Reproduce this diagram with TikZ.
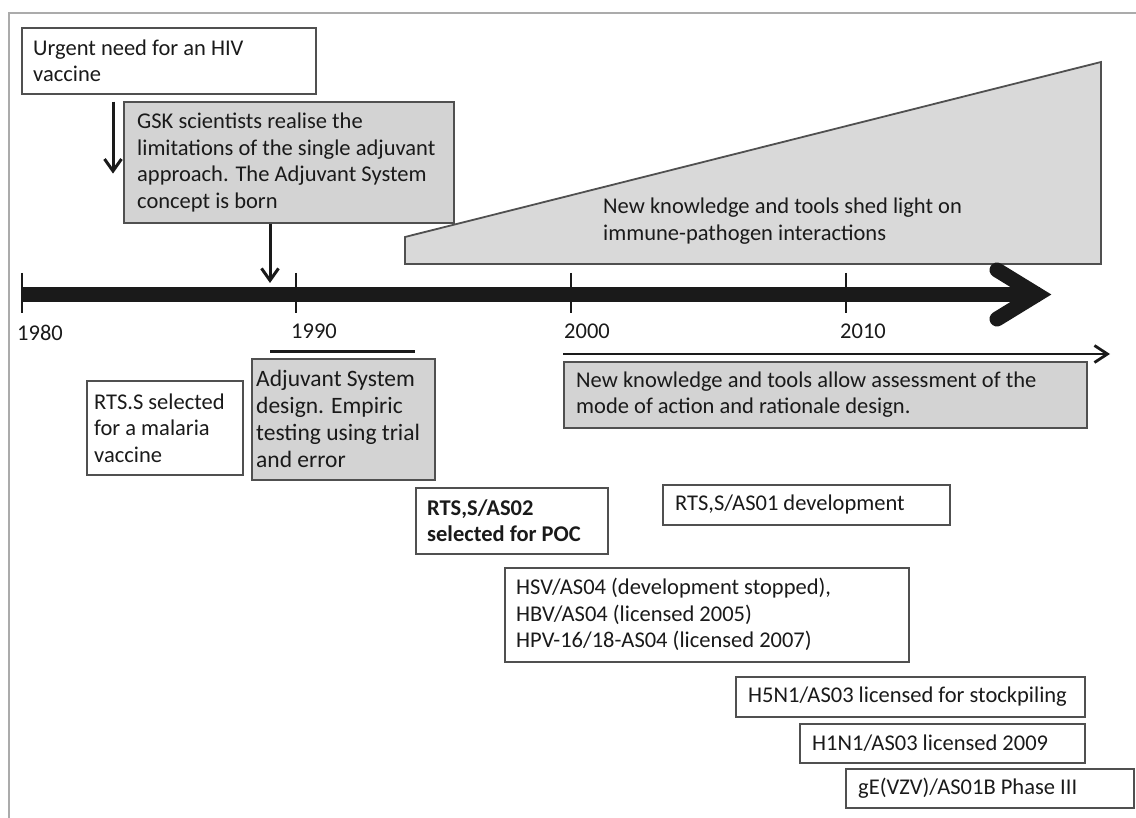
\documentclass[tikz,border=0pt]{standalone}
\usepackage{fontspec}
\setmainfont{Carlito}
\usetikzlibrary{arrows.meta}
\definecolor{boxgray}{HTML}{D3D3D3}
\definecolor{polygray}{HTML}{D9D9D9}
\definecolor{edge}{HTML}{505050}
\definecolor{ink}{HTML}{1A1A1A}
\definecolor{framegray}{HTML}{ABABAB}
\begin{document}
\begin{tikzpicture}[x=1pt,y=-1pt,
  box/.style={draw=edge, line width=1.6pt, anchor=north west, inner sep=0pt, fill=white},
  gbox/.style={box, fill=boxgray},
  txt/.style={anchor=west, align=left, inner sep=0pt, text=ink, font=\fontsize{22.5}{26.5}\selectfont},
  bigtxt/.style={txt, font=\fontsize{23.5}{27}\selectfont},
  arr/.style={draw=ink, line width=3pt, -{Straight Barb[length=12pt,width=17pt]}},
  tick/.style={draw=ink, line width=2.5pt}
]
\useasboundingbox (0,0) rectangle (1136,818);
% frame (top and left only)
\draw[framegray, line width=2pt] (1136,13) -- (9,13) -- (9,818);

% wedge
\draw[edge, line width=1.8pt, fill=polygray, line join=miter]
  (405,264) -- (405,237) -- (1101,62) -- (1101,264) -- cycle;
\node[txt] (wedge) at (603,221) {New knowledge and tools shed light on\\immune-pathogen interactions};

% boxes
\node[box, minimum width=294pt, minimum height=66pt] (b1) at (21,27) {};
\node[txt] (t1) at ([xshift=12pt]b1.west) {Urgent need for an HIV\\vaccine};

\node[gbox, minimum width=330pt, minimum height=121pt] (gsk) at (123,101) {};
\node[txt] (tgsk) at ([xshift=14pt]gsk.west) {GSK scientists realise the\\limitations of the single adjuvant\\approach. The Adjuvant System\\concept is born};

\node[box, minimum width=156pt, minimum height=94pt] (rtss) at (86,380) {};
\node[txt] (trtss) at ([xshift=8pt]rtss.west) {RTS.S selected\\for a malaria\\vaccine};

\node[gbox, minimum width=183pt, minimum height=121pt] (adj) at (251,358) {};
\node[bigtxt] (tadj) at ([xshift=5pt]adj.west) {Adjuvant System\\design. Empiric\\testing using trial\\and error};

\node[gbox, minimum width=523pt, minimum height=66pt] (know) at (563,361) {};
\node[txt] (tknow) at ([xshift=13pt]know.west) {New knowledge and tools allow assessment of the\\mode of action and rationale design.};

\node[box, minimum width=192pt, minimum height=66pt] (as02) at (415,487) {};
\node[txt, font=\fontsize{22.5}{26.5}\selectfont\bfseries] (tas02) at ([xshift=12pt]as02.west) {RTS,S/AS02\\selected for POC};

\node[box, minimum width=287pt, minimum height=40pt] (as01) at (662,484) {};
\node[txt] (tas01) at ([xshift=13pt]as01.west) {RTS,S/AS01 development};

\node[box, minimum width=404pt, minimum height=94pt] (hsv) at (504,567) {};
\node[txt] (thsv) at ([xshift=12pt]hsv.west) {HSV/AS04 (development stopped),\\HBV/AS04 (licensed 2005)\\HPV-16/18-AS04 (licensed 2007)};

\node[box, minimum width=349pt, minimum height=40pt] (h5n1) at (735,676) {};
\node[txt] (th5n1) at ([xshift=13pt]h5n1.west) {H5N1/AS03 licensed for stockpiling};

\node[box, minimum width=285pt, minimum height=39pt] (h1n1) at (799,723) {};
\node[txt] (th1n1) at ([xshift=13pt]h1n1.west) {H1N1/AS03 licensed 2009};

\node[box, minimum width=288pt, minimum height=39pt] (ge) at (845,768) {};
\node[txt] (tge) at ([xshift=13pt]ge.west) {gE(VZV)/AS01B Phase III};

% main time axis
\draw[tick] (22,273) -- (22,313);
\draw[tick] (296,273) -- (296,313);
\draw[tick] (571,273) -- (571,313);
\draw[tick] (846,273) -- (846,313);
\draw[ink, line width=15pt] (21,294.5) -- (1040,294.5);
\draw[ink, line width=15pt, line cap=round, line join=miter] (997,270) -- (1037,294.5) -- (997,319);

\node[txt] (y1980) at (17,333) {1980};
\node[txt] (y1990) at (291,331) {1990};
\node[txt] (y2000) at (564,331) {2000};
\node[txt] (y2010) at (840,331) {2010};

% period bars
\draw[ink, line width=3pt] (270,352) -- (415,352);
\draw[ink, line width=2.8pt, -{Straight Barb[length=13pt,width=17pt]}] (563,354) -- (1110,354);

% connectors
\coordinate (axtop) at (270,283);
\draw[arr] ([xshift=92pt,yshift=-7pt]b1.south west) -- ([xshift=92pt,yshift=-79pt]b1.south west);
\draw[arr] ([xshift=147pt]gsk.south west) -- (axtop);
\end{tikzpicture}
\end{document}
